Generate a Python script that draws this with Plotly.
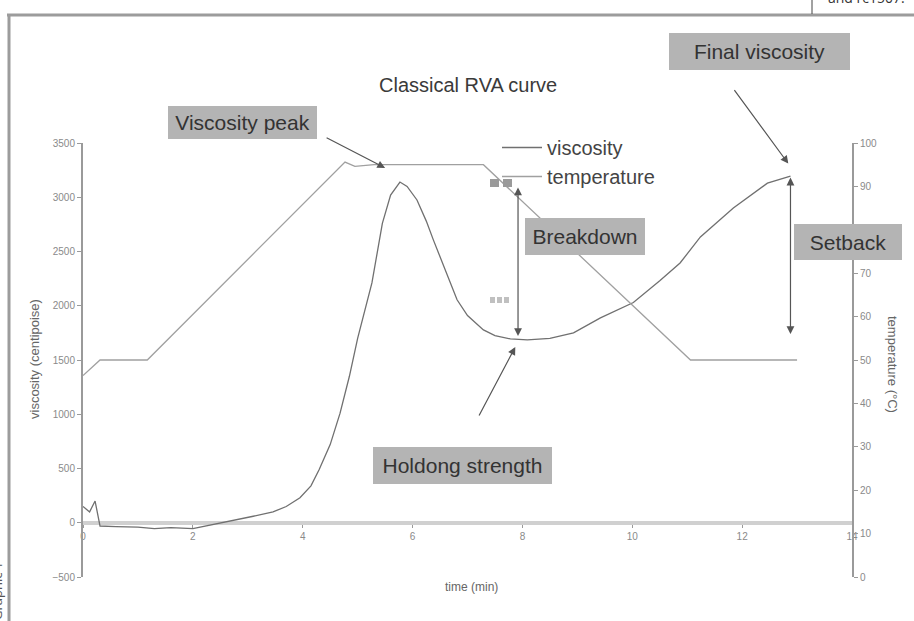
import plotly.graph_objects as go

# Rapid Visco Analyser run: viscosity (cP) and temperature (°C) against time (min)
time_min = [0.00, 0.12, 0.22, 0.31, 0.60, 1.00, 1.30, 1.60, 2.00, 2.20, 2.50, 2.80,
            3.10, 3.46, 3.70, 3.95, 4.15, 4.30, 4.50, 4.68, 4.85, 5.00, 5.15, 5.26,
            5.45, 5.60, 5.77, 5.90, 6.08, 6.25, 6.38, 6.55, 6.68, 6.81, 7.00, 7.29,
            7.50, 7.78, 8.09, 8.50, 8.93, 9.42, 10.02, 10.50, 10.87, 11.24, 11.84,
            12.46, 12.88]
viscosity_cp = [150, 100, 200, -30, -35, -40, -55, -45, -55, -35, 0, 30,
                60, 100, 150, 230, 340, 490, 720, 1010, 1350, 1700, 2000, 2210,
                2760, 3020, 3140, 3100, 2975, 2780, 2605, 2380, 2210, 2055, 1910, 1777,
                1725, 1694, 1685, 1700, 1750, 1888, 2030, 2230, 2394, 2634, 2900,
                3130, 3195]

temp_time = [0.00, 0.31, 1.17, 4.77, 4.95, 5.30, 7.29, 11.06, 13.00]
temp_c = [46.4, 50.0, 50.0, 95.6, 94.6, 95.0, 95.0, 50.0, 50.0]

x_ticks = [0, 2, 4, 6, 8, 10, 12, 14]
visc_ticks = [-500, 0, 500, 1000, 1500, 2000, 2500, 3000, 3500]
temp_ticks = [0, 10, 20, 30, 40, 50, 60, 70, 80, 90, 100]

W, H = 914, 621
L, R, T, B = 83, 62, 143, 44
PW, PH = W - L - R, H - T - B


def px(x):
    return (x - L) / PW


def py(y):
    return (H - B - y) / PH


FONT = "Liberation Sans, Arial, sans-serif"
grey_line = "#9a9a9a"
tick_font = dict(family=FONT, size=10, color="#8a8a8a")
label_font = dict(family=FONT, size=21, color="#333333")

fig = go.Figure()
fig.add_trace(go.Scatter(x=time_min, y=viscosity_cp, name="viscosity", mode="lines",
                         line=dict(color="#707070", width=1.3)))
fig.add_trace(go.Scatter(x=temp_time, y=temp_c, name="temperature", mode="lines",
                         yaxis="y2", line=dict(color="#a0a0a0", width=1.3)))

# key points of the pasting curve
hold_start, hold_end = temp_time[3], temp_time[6]          # 95 °C hold
hold = [i for i, t in enumerate(time_min) if hold_start <= t <= hold_end]
peak_i = max(hold, key=lambda i: viscosity_cp[i])
peak_t, peak_v = time_min[peak_i], viscosity_cp[peak_i]
trough_i = min(range(peak_i, len(time_min)), key=lambda i: viscosity_cp[i])
trough_t, trough_v = time_min[trough_i], viscosity_cp[trough_i]
final_t, final_v = time_min[-1], viscosity_cp[-1]

arrow = dict(text="", showarrow=True, arrowhead=2, arrowsize=1.3, arrowwidth=1.2,
             arrowcolor="#555555")

# Viscosity peak pointer
fig.add_annotation(x=peak_t - 0.27, y=peak_v + 130, ax=-60, ay=-31, **arrow)
# Breakdown: peak to trough
fig.add_annotation(x=7.92, y=trough_v, ax=7.92, ay=peak_v, axref="x", ayref="y",
                   arrowside="end+start", startarrowhead=2, startarrowsize=1.3,
                   standoff=4, startstandoff=4, **arrow)
# Holding strength pointer
fig.add_annotation(x=trough_t - 0.22, y=trough_v - 65, ax=-37, ay=70, **arrow)
# Final viscosity pointer
fig.add_annotation(x=final_t - 0.04, y=final_v + 115, ax=-55, ay=-75, **arrow)
# Setback: trough to final
fig.add_annotation(x=final_t, y=trough_v, ax=final_t, ay=final_v, axref="x", ayref="y",
                   arrowside="end+start", startarrowhead=2, startarrowsize=1.3,
                   standoff=6, startstandoff=0, **arrow)

# grey label boxes: (text, left, top, right, bottom) in pixels
boxes = [
    ("Viscosity peak", 168, 106, 317, 139),
    ("Final viscosity", 669, 33, 850, 70),
    ("Setback", 794, 224, 902, 260),
    ("Breakdown", 525, 218, 645, 255),
    ("Holdong strength", 373, 447, 552, 484),
]
for text, x0, y0, x1, y1 in boxes:
    fig.add_annotation(xref="paper", yref="paper", x=px((x0 + x1) / 2), y=py((y0 + y1) / 2),
                       xanchor="center", yanchor="middle", text=text, showarrow=False,
                       bgcolor="#b4b4b4", borderwidth=0, borderpad=0,
                       width=x1 - x0, height=y1 - y0, font=label_font)


def note(text, x, y, size, color="#666666", angle=0, xanchor="center", yanchor="middle",
         family=FONT):
    fig.add_annotation(xref="paper", yref="paper", x=px(x), y=py(y), text=text,
                       textangle=angle, showarrow=False, xanchor=xanchor, yanchor=yanchor,
                       font=dict(family=family, size=size, color=color))


# title and axis titles
note("Classical RVA curve", 468, 85, 20, color="#3a3a3a")
note("time (min)", 471, 587, 12)
note("viscosity (centipoise)", 34, 359, 13, angle=-90)
note("temperature (°C)", 893, 364, 13, angle=90)

# page furniture around the figure
note("and rc1507.", 826, 9, 14, color="#333333", xanchor="left", yanchor="bottom",
     family="Open Sans, sans-serif")
note("Graphic 1", -3, 560, 13, color="#555555", angle=-90, yanchor="top",
     family="Open Sans, sans-serif")

shapes = [
    dict(type="line", xref="paper", yref="paper", x0=px(7), x1=px(914), y0=py(15), y1=py(15),
         line=dict(color="#9c9c9c", width=3)),
    dict(type="line", xref="paper", yref="paper", x0=px(9), x1=px(9), y0=py(15), y1=py(621),
         line=dict(color="#9c9c9c", width=3)),
    dict(type="line", xref="paper", yref="paper", x0=px(812), x1=px(812), y0=py(0), y1=py(14),
         line=dict(color="#444444", width=1)),
]
# small selection handles
for x0, y0, x1, y1, c in [(490, 179, 499, 187, "#9a9a9a"), (503, 179, 512, 187, "#9a9a9a"),
                          (490, 297, 495, 303, "#c0c0c0"), (497, 297, 502, 303, "#c0c0c0"),
                          (504, 297, 509, 303, "#c0c0c0")]:
    shapes.append(dict(type="rect", xref="paper", yref="paper", x0=px(x0), x1=px(x1),
                       y0=py(y0), y1=py(y1), fillcolor=c, line=dict(width=0)))

fig.update_layout(
    width=W, height=H,
    margin=dict(l=L, r=R, t=T, b=B),
    paper_bgcolor="white", plot_bgcolor="white",
    shapes=shapes,
    showlegend=True,
    legend=dict(x=px(497), y=py(128), xanchor="left", yanchor="top", itemwidth=40,
                bgcolor="rgba(0,0,0,0)", tracegroupgap=0,
                font=dict(family=FONT, size=20, color="#444444")),
    xaxis=dict(range=[0, 14], tickvals=x_ticks, anchor="free", position=py(523),
               showline=True, linecolor="#d0d0d0", linewidth=4, layer="below traces",
               ticks="outside", ticklen=3, tickcolor="#999999", tickfont=tick_font,
               showgrid=False, zeroline=False),
    yaxis=dict(range=[-500, 3500], tickvals=visc_ticks, showline=True, linecolor=grey_line,
               linewidth=2, ticks="outside", ticklen=4, tickcolor=grey_line, tickfont=tick_font,
               showgrid=False, zeroline=False),
    yaxis2=dict(range=[0, 100], tickvals=temp_ticks, overlaying="y", side="right",
                showline=True, linecolor=grey_line, linewidth=2, ticks="outside", ticklen=4,
                tickcolor=grey_line, tickfont=tick_font, showgrid=False, zeroline=False),
)

fig.write_html("out.html")
